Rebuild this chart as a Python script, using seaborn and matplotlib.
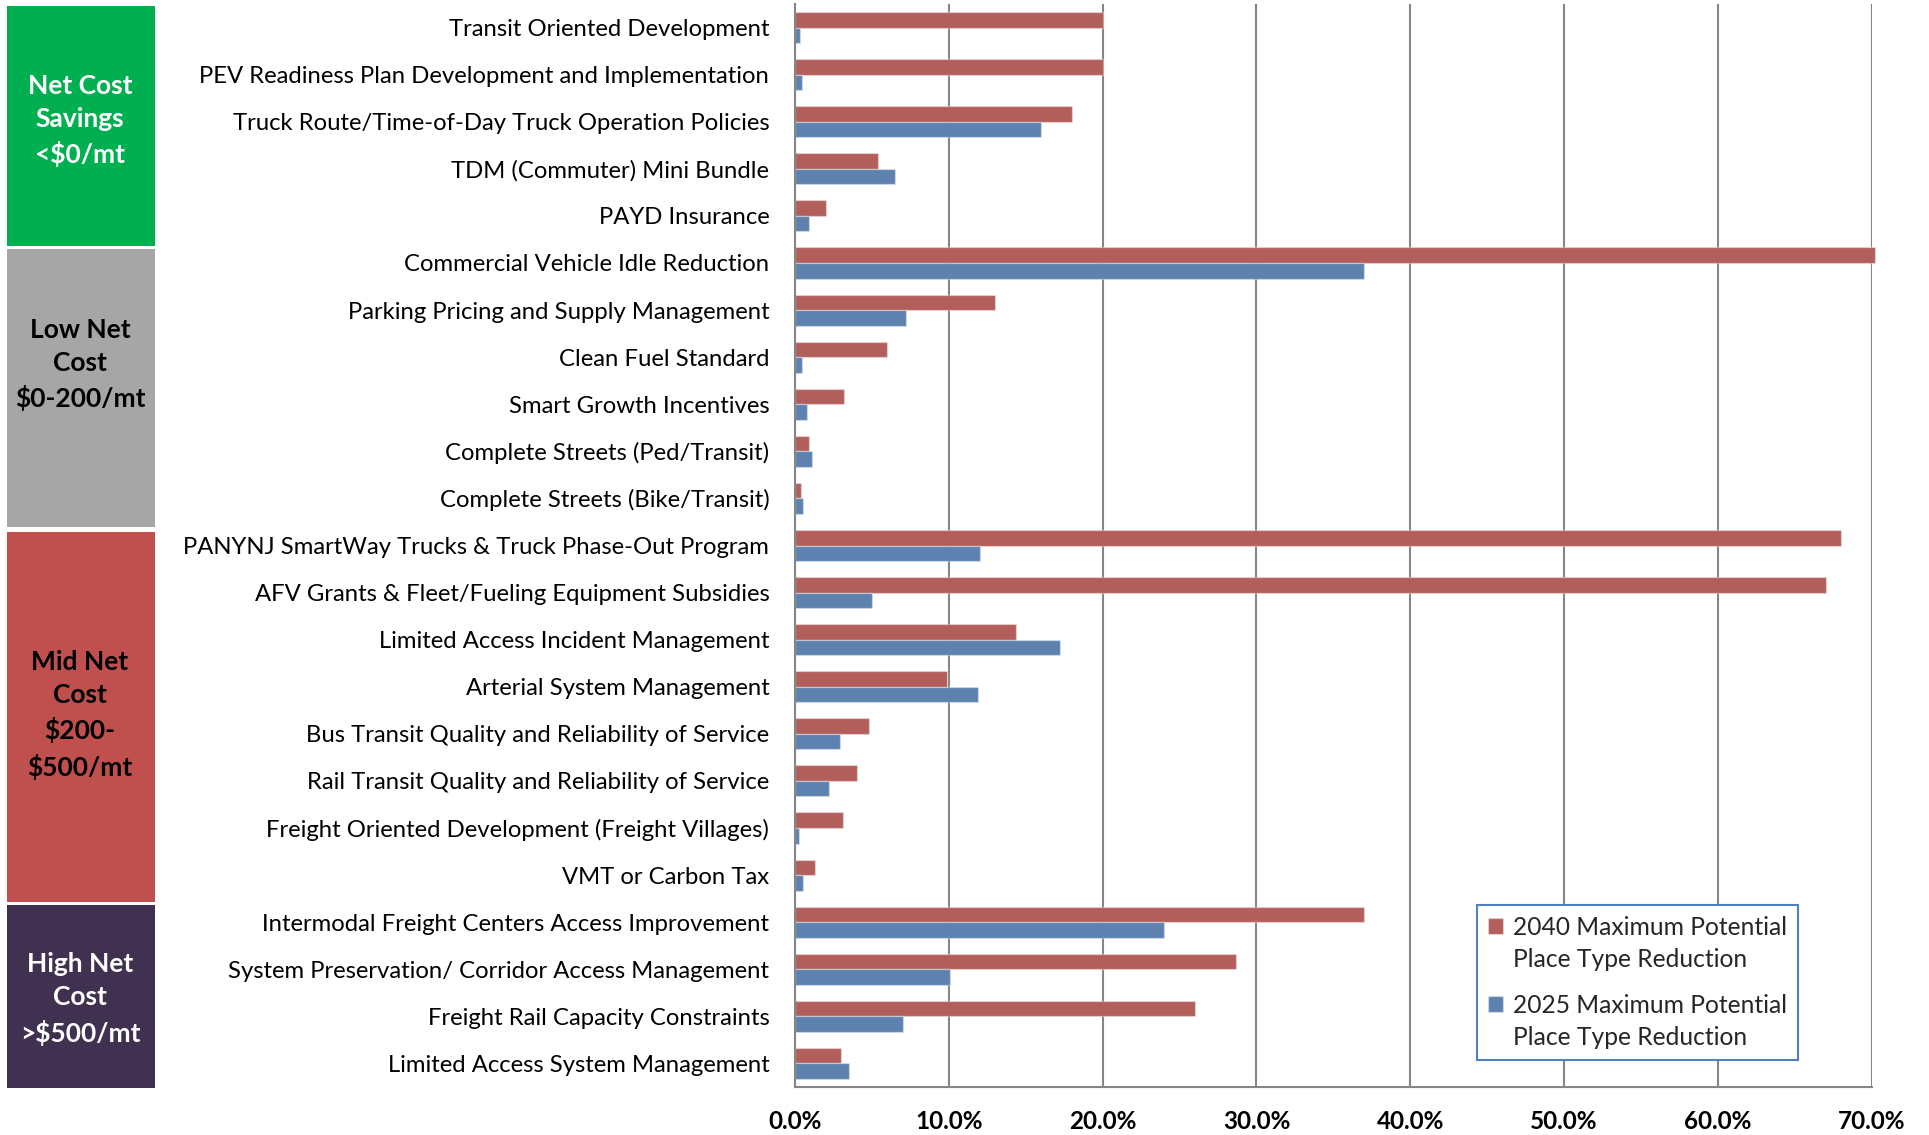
import matplotlib
matplotlib.use("Agg")
import matplotlib.pyplot as plt
import matplotlib.transforms as mtransforms
from matplotlib.patches import Rectangle
from matplotlib.ticker import FixedLocator, MultipleLocator
import pandas as pd
import seaborn as sns

# ---- data -----------------------------------------------------------------
measures = [
    "Transit Oriented Development",
    "PEV Readiness Plan Development and Implementation",
    "Truck Route/Time-of-Day Truck Operation Policies",
    "TDM (Commuter) Mini Bundle",
    "PAYD Insurance",
    "Commercial Vehicle Idle Reduction",
    "Parking Pricing and Supply Management",
    "Clean Fuel Standard",
    "Smart Growth Incentives",
    "Complete Streets (Ped/Transit)",
    "Complete Streets (Bike/Transit)",
    "PANYNJ SmartWay Trucks & Truck Phase-Out Program",
    "AFV Grants & Fleet/Fueling Equipment Subsidies",
    "Limited Access Incident Management",
    "Arterial System Management",
    "Bus Transit Quality and Reliability of Service",
    "Rail Transit Quality and Reliability of Service",
    "Freight Oriented Development (Freight Villages)",
    "VMT or Carbon Tax",
    "Intermodal Freight Centers Access Improvement",
    "System Preservation/ Corridor Access Management",
    "Freight Rail Capacity Constraints",
    "Limited Access System Management",
]
reduction_2040 = [20.0, 20.0, 18.0, 5.4, 2.0, 70.2, 13.0, 6.0, 3.2, 0.9, 0.4,
                  68.0, 67.0, 14.4, 9.9, 4.8, 4.0, 3.1, 1.3,
                  37.0, 28.7, 26.0, 3.0]
reduction_2025 = [0.3, 0.45, 16.0, 6.5, 0.9, 37.0, 7.2, 0.45, 0.8, 1.1, 0.5,
                  12.0, 5.0, 17.2, 11.9, 2.9, 2.2, 0.25, 0.5,
                  24.0, 10.1, 7.0, 3.5]
series_labels = ["2040 Maximum Potential\nPlace Type Reduction",
                 "2025 Maximum Potential\nPlace Type Reduction"]
x_ticks = [0, 10, 20, 30, 40, 50, 60, 70]

cost_tiers = ["Net Cost\nSavings\n<$0/mt",
              "Low Net\nCost\n$0-200/mt",
              "Mid Net\nCost\n$200-\n$500/mt",
              "High Net\nCost\n>$500/mt"]
tier_sizes = [5, 6, 8, 4]

# ---- styling --------------------------------------------------------------
RED = "#C0504D"
BLUE = "#4F81BD"
GRID = "#868686"
tier_colors = ["#00B050", "#A6A6A6", "#C0504D", "#403151"]
tier_text_colors = ["white", "black", "black", "white"]
tier_top_pad = [0.04, 0.21, 0.21, 0.13]
tier_bottom_pad = [0.15, 0.10, 0.08, 0.02]
tier_text_shift = [-0.12, -0.5, -0.05, 0.05]

sns.set_style("white")
plt.rcParams["font.family"] = ["Lato", "DejaVu Sans"]

df = pd.DataFrame({
    "Measure": measures * 2,
    "Reduction": reduction_2040 + reduction_2025,
    "Scenario": [series_labels[0]] * len(measures) + [series_labels[1]] * len(measures),
})

fig = plt.figure(figsize=(19.29, 11.35), dpi=100)
ax = fig.add_axes([795 / 1929, 1 - 1087 / 1135, (1871.7 - 795) / 1929, (1087 - 4) / 1135])

sns.barplot(data=df, y="Measure", x="Reduction", hue="Scenario",
            hue_order=series_labels, palette=[RED, BLUE], orient="h",
            width=0.66, order=measures, ax=ax,
            edgecolor=(1, 1, 1, 0.35), linewidth=1.0)

for p in ax.patches:
    p.set_clip_on(False)

ax.set_xlim(0, 70)
ax.set_ylim(len(measures) - 0.5, -0.5)
ax.set_xlabel("")
ax.set_ylabel("")

# x axis: bold percent labels, minor ticks every 2%
ax.set_xticks(x_ticks, labels=[f"{v:.1f}%" for v in x_ticks],
              fontweight="bold", fontsize=17.5)
ax.xaxis.set_minor_locator(MultipleLocator(2))
ax.tick_params(axis="x", which="major", direction="out", length=5.5, width=1.5,
               color=GRID, pad=11, labelcolor="black")
ax.tick_params(axis="x", which="minor", direction="in", length=4, width=1.2,
               color=GRID)

# y axis: labels at category centres, ticks at category boundaries
ax.tick_params(axis="y", which="major", length=0, pad=18.5, labelsize=17.2,
               labelcolor="black")
ax.yaxis.set_minor_locator(FixedLocator([i - 0.5 for i in range(len(measures) + 1)]))
ax.tick_params(axis="y", which="minor", direction="out", length=6.5, width=1.5,
               color=GRID)

ax.set_axisbelow(True)
ax.grid(axis="x", which="major", color=GRID, linewidth=1.5)
ax.grid(axis="y", visible=False)
for side in ["top", "right"]:
    ax.spines[side].set_visible(False)
for side in ["left", "bottom"]:
    ax.spines[side].set_color(GRID)
    ax.spines[side].set_linewidth(1.5)

# cost-tier boxes to the left of the measure names
blend = mtransforms.blended_transform_factory(fig.transFigure, ax.transData)
start = 0
for i, (label, n) in enumerate(zip(cost_tiers, tier_sizes)):
    top = start - 0.5 + tier_top_pad[i]
    bottom = start + n - 0.5 + tier_bottom_pad[i]
    fig.add_artist(Rectangle((7 / 1929, top), 148 / 1929, bottom - top,
                             transform=blend, facecolor=tier_colors[i],
                             edgecolor="none", clip_on=False, zorder=-1))
    ax.text(80 / 1929, (top + bottom) / 2 + tier_text_shift[i], label,
            transform=blend, ha="center", va="center", fontsize=19,
            fontweight="bold", color=tier_text_colors[i], linespacing=1.47,
            clip_on=False)
    start += n

# legend
handles, labels = ax.get_legend_handles_labels()
leg = ax.legend(handles, labels, loc="upper left",
                bbox_to_anchor=(1477 / 1929, 1 - 905 / 1135),
                bbox_transform=fig.transFigure, borderaxespad=0,
                frameon=True, fancybox=False, edgecolor=BLUE, framealpha=1,
                fontsize=17.7, handlelength=0.62, handleheight=0.62,
                handletextpad=0.4, labelspacing=0.95, borderpad=0.45)
leg.get_frame().set_linewidth(1.5)
for t in leg.get_texts():
    t.set_linespacing(1.45)
for h in leg.legend_handles:
    h.set_y(h.get_y() + 13)

fig.savefig("out.png", dpi=100)
